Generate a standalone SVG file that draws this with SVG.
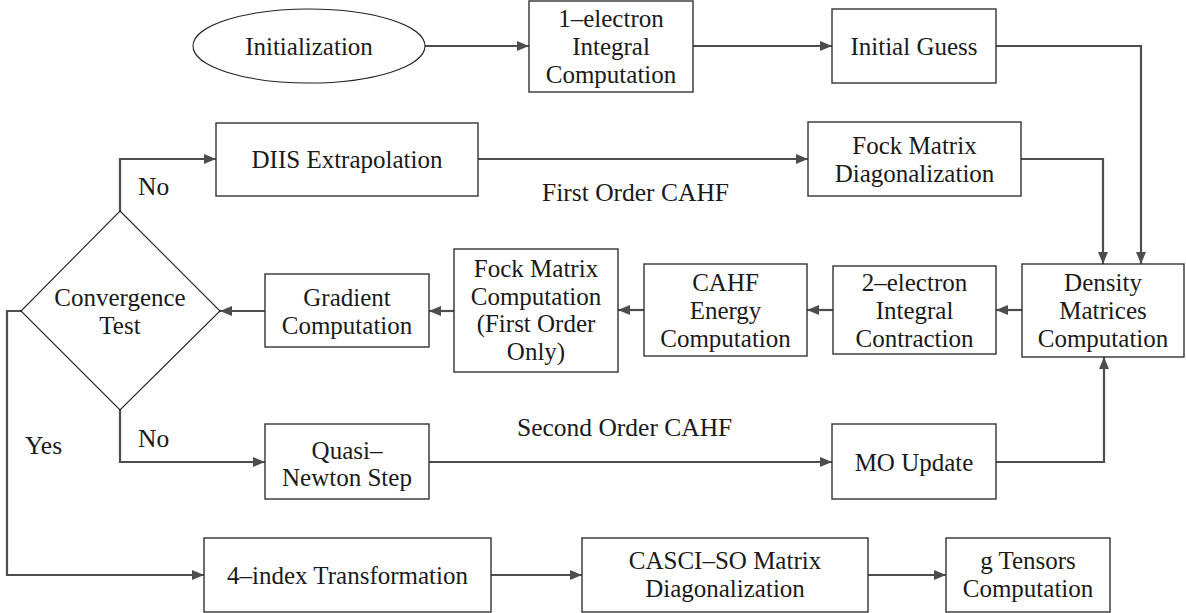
<svg xmlns="http://www.w3.org/2000/svg" width="1186" height="613" viewBox="0 0 1186 613">
<defs>
<style>
.box{fill:#fff;stroke:#333;stroke-width:1.4}
.thin{fill:#fff;stroke:#222;stroke-width:1.1}
.t{font-size:25px;fill:#1a1a1a;text-anchor:middle;dominant-baseline:central}
.l{font-size:25.5px;fill:#1a1a1a;dominant-baseline:central}
.c{fill:none;stroke:#4d4d4d;stroke-width:2.2}
</style>
<marker id="ah" viewBox="0 0 12 10" refX="12" refY="5" markerWidth="12" markerHeight="10" markerUnits="userSpaceOnUse" orient="auto">
<path d="M0,0 L12,5 L0,10 z" fill="#4d4d4d"/>
</marker>
</defs>
<rect width="1186" height="613" fill="#fff"/>
<g id="connectors">
<path class="c" d="M425,46 H529" marker-end="url(#ah)"/>
<path class="c" d="M693,46 H832" marker-end="url(#ah)"/>
<path class="c" d="M996,46 H1141 V264" marker-end="url(#ah)"/>
<path class="c" d="M1021,159 H1103 V264" marker-end="url(#ah)"/>
<path class="c" d="M478,159 H808" marker-end="url(#ah)"/>
<path class="c" d="M120,211 V159 H216" marker-end="url(#ah)"/>
<path class="c" d="M1022,310 H996" marker-end="url(#ah)"/>
<path class="c" d="M833,310 H807" marker-end="url(#ah)"/>
<path class="c" d="M644,310 H618" marker-end="url(#ah)"/>
<path class="c" d="M454,311 H429" marker-end="url(#ah)"/>
<path class="c" d="M265,311 H220" marker-end="url(#ah)"/>
<path class="c" d="M120,410 V462 H265" marker-end="url(#ah)"/>
<path class="c" d="M429,462 H832" marker-end="url(#ah)"/>
<path class="c" d="M996,462 H1104 V357" marker-end="url(#ah)"/>
<path class="c" d="M21,311 H7 V575 H204" marker-end="url(#ah)"/>
<path class="c" d="M491,575 H582" marker-end="url(#ah)"/>
<path class="c" d="M868,575 H946" marker-end="url(#ah)"/>
</g>
<g font-family="Liberation Serif, DejaVu Serif, serif">
<g id="labels">
<text class="l" x="138" y="186">No</text>
<text class="l" x="138" y="438">No</text>
<text class="l" x="25" y="445">Yes</text>
<text class="l" x="542" y="192">First Order CAHF</text>
<text class="l" x="517" y="427">Second Order CAHF</text>
</g>
<g id="init">
<ellipse class="thin" cx="309" cy="46" rx="116" ry="37"/>
<text class="t" x="309" y="46" font-size="26px">Initialization</text>
</g>
<g id="e1">
<rect class="box" x="529" y="1" width="164" height="91"/>
<text class="t" x="611" y="18">1–electron</text>
<text class="t" x="611" y="46">Integral</text>
<text class="t" x="611" y="74">Computation</text>
</g>
<g id="guess">
<rect class="box" x="832" y="9" width="164" height="74"/>
<text class="t" x="914" y="46">Initial Guess</text>
</g>
<g id="diis">
<rect class="box" x="216" y="123" width="262" height="73"/>
<text class="t" x="347" y="159">DIIS Extrapolation</text>
</g>
<g id="fockdiag">
<rect class="box" x="808" y="122" width="213" height="74"/>
<text class="t" x="914.5" y="145">Fock Matrix</text>
<text class="t" x="914.5" y="173">Diagonalization</text>
</g>
<g id="conv">
<polygon class="thin" points="120,211 220,311 120,410 21,311"/>
<text class="t" x="120" y="297">Convergence</text>
<text class="t" x="120" y="325">Test</text>
</g>
<g id="grad">
<rect class="box" x="265" y="274" width="164" height="73"/>
<text class="t" x="347" y="297">Gradient</text>
<text class="t" x="347" y="325">Computation</text>
</g>
<g id="fockcomp">
<rect class="box" x="454" y="249" width="164" height="123"/>
<text class="t" x="536" y="268">Fock Matrix</text>
<text class="t" x="536" y="296">Computation</text>
<text class="t" x="536" y="323">(First Order</text>
<text class="t" x="536" y="351">Only)</text>
</g>
<g id="cahf">
<rect class="box" x="644" y="264" width="163" height="92"/>
<text class="t" x="725.5" y="282">CAHF</text>
<text class="t" x="725.5" y="310">Energy</text>
<text class="t" x="725.5" y="338">Computation</text>
</g>
<g id="e2">
<rect class="box" x="833" y="266" width="163" height="88"/>
<text class="t" x="914.5" y="282">2–electron</text>
<text class="t" x="914.5" y="310">Integral</text>
<text class="t" x="914.5" y="338">Contraction</text>
</g>
<g id="density">
<rect class="box" x="1022" y="264" width="162" height="93"/>
<text class="t" x="1103" y="282">Density</text>
<text class="t" x="1103" y="310">Matrices</text>
<text class="t" x="1103" y="338">Computation</text>
</g>
<g id="quasi">
<rect class="box" x="265" y="424" width="164" height="75"/>
<text class="t" x="347" y="450">Quasi–</text>
<text class="t" x="347" y="477">Newton Step</text>
</g>
<g id="mo">
<rect class="box" x="832" y="424" width="164" height="75"/>
<text class="t" x="914" y="462">MO Update</text>
</g>
<g id="four">
<rect class="box" x="204" y="538" width="287" height="74"/>
<text class="t" x="347.5" y="575">4–index Transformation</text>
</g>
<g id="casci">
<rect class="box" x="582" y="538" width="286" height="74"/>
<text class="t" x="725" y="560">CASCI–SO Matrix</text>
<text class="t" x="725" y="588">Diagonalization</text>
</g>
<g id="gt">
<rect class="box" x="946" y="538" width="164" height="74"/>
<text class="t" x="1028" y="560">g Tensors</text>
<text class="t" x="1028" y="588">Computation</text>
</g>
</g>
</svg>
